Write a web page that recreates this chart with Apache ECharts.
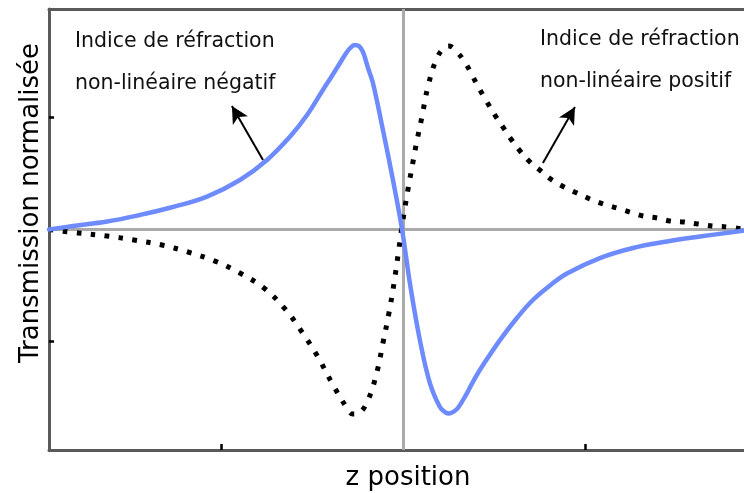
<!DOCTYPE html>
<html>
<head>
<meta charset="utf-8">
<title>Z-scan</title>
<script src="https://cdn.jsdelivr.net/npm/echarts@6/dist/echarts.min.js"></script>
<style>
  html, body { margin: 0; padding: 0; background: #fff; }
  #chart { width: 744px; height: 493px; }
</style>
</head>
<body>
<div id="chart"></div>
<script>
// courbe bleue (indice non-linéaire négatif) : position z / transmission
var blueZ = [-1.945, -1.813, -1.626, -1.445, -1.264, -1.077, -0.896, -0.747, -0.621, -0.527, -0.44, -0.401, -0.346, -0.308, -0.286, -0.264, -0.242, -0.22, -0.192, -0.165, -0.11, -0.055, -0.005, 0.038, 0.093, 0.148, 0.203, 0.231, 0.253, 0.275, 0.302, 0.352, 0.396, 0.44, 0.533, 0.626, 0.714, 0.808, 0.901, 1.082, 1.264, 1.451, 1.632, 1.868]
var blueT = [0.0, 0.031, 0.071, 0.13, 0.201, 0.293, 0.442, 0.621, 0.829, 1.023, 1.247, 1.345, 1.488, 1.586, 1.627, 1.649, 1.64, 1.586, 1.443, 1.309, 0.889, 0.442, 0.0, -0.478, -0.988, -1.372, -1.586, -1.631, -1.645, -1.631, -1.595, -1.461, -1.327, -1.211, -0.988, -0.791, -0.63, -0.5, -0.393, -0.255, -0.165, -0.107, -0.063, -0.011]

// courbe pointillée (indice non-linéaire positif)
var dotZ = [-1.945, -1.786, -1.626, -1.478, -1.324, -1.181, -1.033, -0.896, -0.764, -0.648, -0.555, -0.467, -0.39, -0.308, -0.275, -0.242, -0.192, -0.143, -0.11, -0.077, -0.049, -0.027, 0.0, 0.027, 0.055, 0.071, 0.104, 0.137, 0.187, 0.236, 0.253, 0.297, 0.346, 0.385, 0.423, 0.462, 0.505, 0.549, 0.593, 0.643, 0.698, 0.758, 0.819, 0.885, 0.956, 1.027, 1.099, 1.176, 1.247, 1.319, 1.396, 1.467, 1.544, 1.621, 1.703, 1.786, 1.863]
var dotT = [0.0, -0.031, -0.058, -0.094, -0.139, -0.201, -0.282, -0.389, -0.523, -0.71, -0.916, -1.139, -1.372, -1.595, -1.649, -1.64, -1.524, -1.273, -1.014, -0.746, -0.478, -0.228, 0.085, 0.353, 0.603, 0.746, 1.005, 1.273, 1.533, 1.635, 1.64, 1.586, 1.479, 1.363, 1.247, 1.139, 1.023, 0.916, 0.809, 0.702, 0.603, 0.523, 0.442, 0.38, 0.326, 0.273, 0.228, 0.192, 0.156, 0.121, 0.103, 0.076, 0.067, 0.049, 0.031, 0.022, 0.004]

var tickValues = [-1, 0, 1]

// flèches d'annotation : [départ, pointe]
var arrowNeg = [[-0.769, 0.621], [-0.94, 1.104]]
var arrowPos = [[0.769, 0.594], [0.945, 1.095]]

var labelNeg = ['Indice de réfraction', 'non-linéaire négatif']
var labelPos = ['Indice de réfraction', 'non-linéaire positif']

function zip (xs, ys) {
  return xs.map(function (x, i) { return [x, ys[i]] })
}

var fontFamily = '"DejaVu Sans", Verdana, sans-serif'
var axisColor = '#5a5a5a'

function note (text, x, y) {
  return {
    type: 'text',
    position: [x, y],
    style: { text: text, fill: '#111', font: '20.5px ' + fontFamily, textAlign: 'left', textVerticalAlign: 'middle' }
  }
}

var chart = echarts.init(document.getElementById('chart'), null, { renderer: 'canvas' })

var option = {
  animation: false,
  grid: { left: 49, right: 0, top: 9, bottom: 43 },
  xAxis: [
    {
      type: 'value',
      min: -1.945,
      max: 1.874,
      axisLine: { show: true, onZero: false, lineStyle: { color: axisColor, width: 3 } },
      axisTick: { show: true, inside: true, length: 6, customValues: tickValues, lineStyle: { color: '#000', width: 2.5 } },
      axisLabel: { show: false },
      splitLine: { show: false }
    },
    {
      // bord supérieur du cadre
      type: 'value',
      position: 'top',
      min: -1.945,
      max: 1.874,
      axisLine: { show: true, onZero: false, lineStyle: { color: axisColor, width: 3 } },
      axisTick: { show: false },
      axisLabel: { show: false },
      splitLine: { show: false }
    }
  ],
  yAxis: {
    type: 'value',
    min: -1.97,
    max: 1.97,
    axisLine: { show: true, onZero: false, lineStyle: { color: axisColor, width: 3 } },
    axisTick: { show: true, inside: true, length: 5, customValues: tickValues, lineStyle: { color: '#000', width: 2.5 } },
    axisLabel: { show: false },
    splitLine: { show: false }
  },
  graphic: [
    {
      type: 'text',
      position: [408, 478],
      style: { text: 'z position', fill: '#000', font: '26px ' + fontFamily, textAlign: 'center', textVerticalAlign: 'middle' }
    },
    {
      type: 'text',
      position: [31, 203],
      rotation: Math.PI / 2,
      style: { text: 'Transmission normalisée', fill: '#000', font: '26px ' + fontFamily, textAlign: 'center', textVerticalAlign: 'middle' }
    },
    note(labelNeg[0], 75, 42),
    note(labelNeg[1], 75, 84),
    note(labelPos[0], 540, 40),
    note(labelPos[1], 540, 82)
  ],
  series: [
    {
      // axes gris z = 0 et T = 0
      type: 'line',
      data: [],
      z: 1,
      markLine: {
        z: 1,
        silent: true,
        symbol: 'none',
        label: { show: false },
        lineStyle: { color: '#aaaaaa', width: 3, type: 'solid' },
        data: [{ xAxis: 0 }, { yAxis: 0 }]
      }
    },
    {
      type: 'line',
      name: 'positif',
      data: zip(dotZ, dotT),
      z: 3,
      smooth: 0.4,
      showSymbol: false,
      lineStyle: { color: '#000', width: 5, type: [4.5, 9.5], cap: 'butt', join: 'round' }
    },
    {
      type: 'line',
      name: 'négatif',
      data: zip(blueZ, blueT),
      z: 4,
      smooth: 0.4,
      showSymbol: false,
      lineStyle: { color: '#6e8bfd', width: 4.5, join: 'round', cap: 'round' },
      markLine: {
        silent: true,
        symbol: ['none', 'arrow'],
        symbolSize: [13, 17],
        label: { show: false },
        lineStyle: { color: '#000', width: 2, type: 'solid' },
        data: [
          [{ coord: arrowNeg[0] }, { coord: arrowNeg[1] }],
          [{ coord: arrowPos[0] }, { coord: arrowPos[1] }]
        ]
      }
    }
  ]
}

chart.setOption(option)
</script>
</body>
</html>
